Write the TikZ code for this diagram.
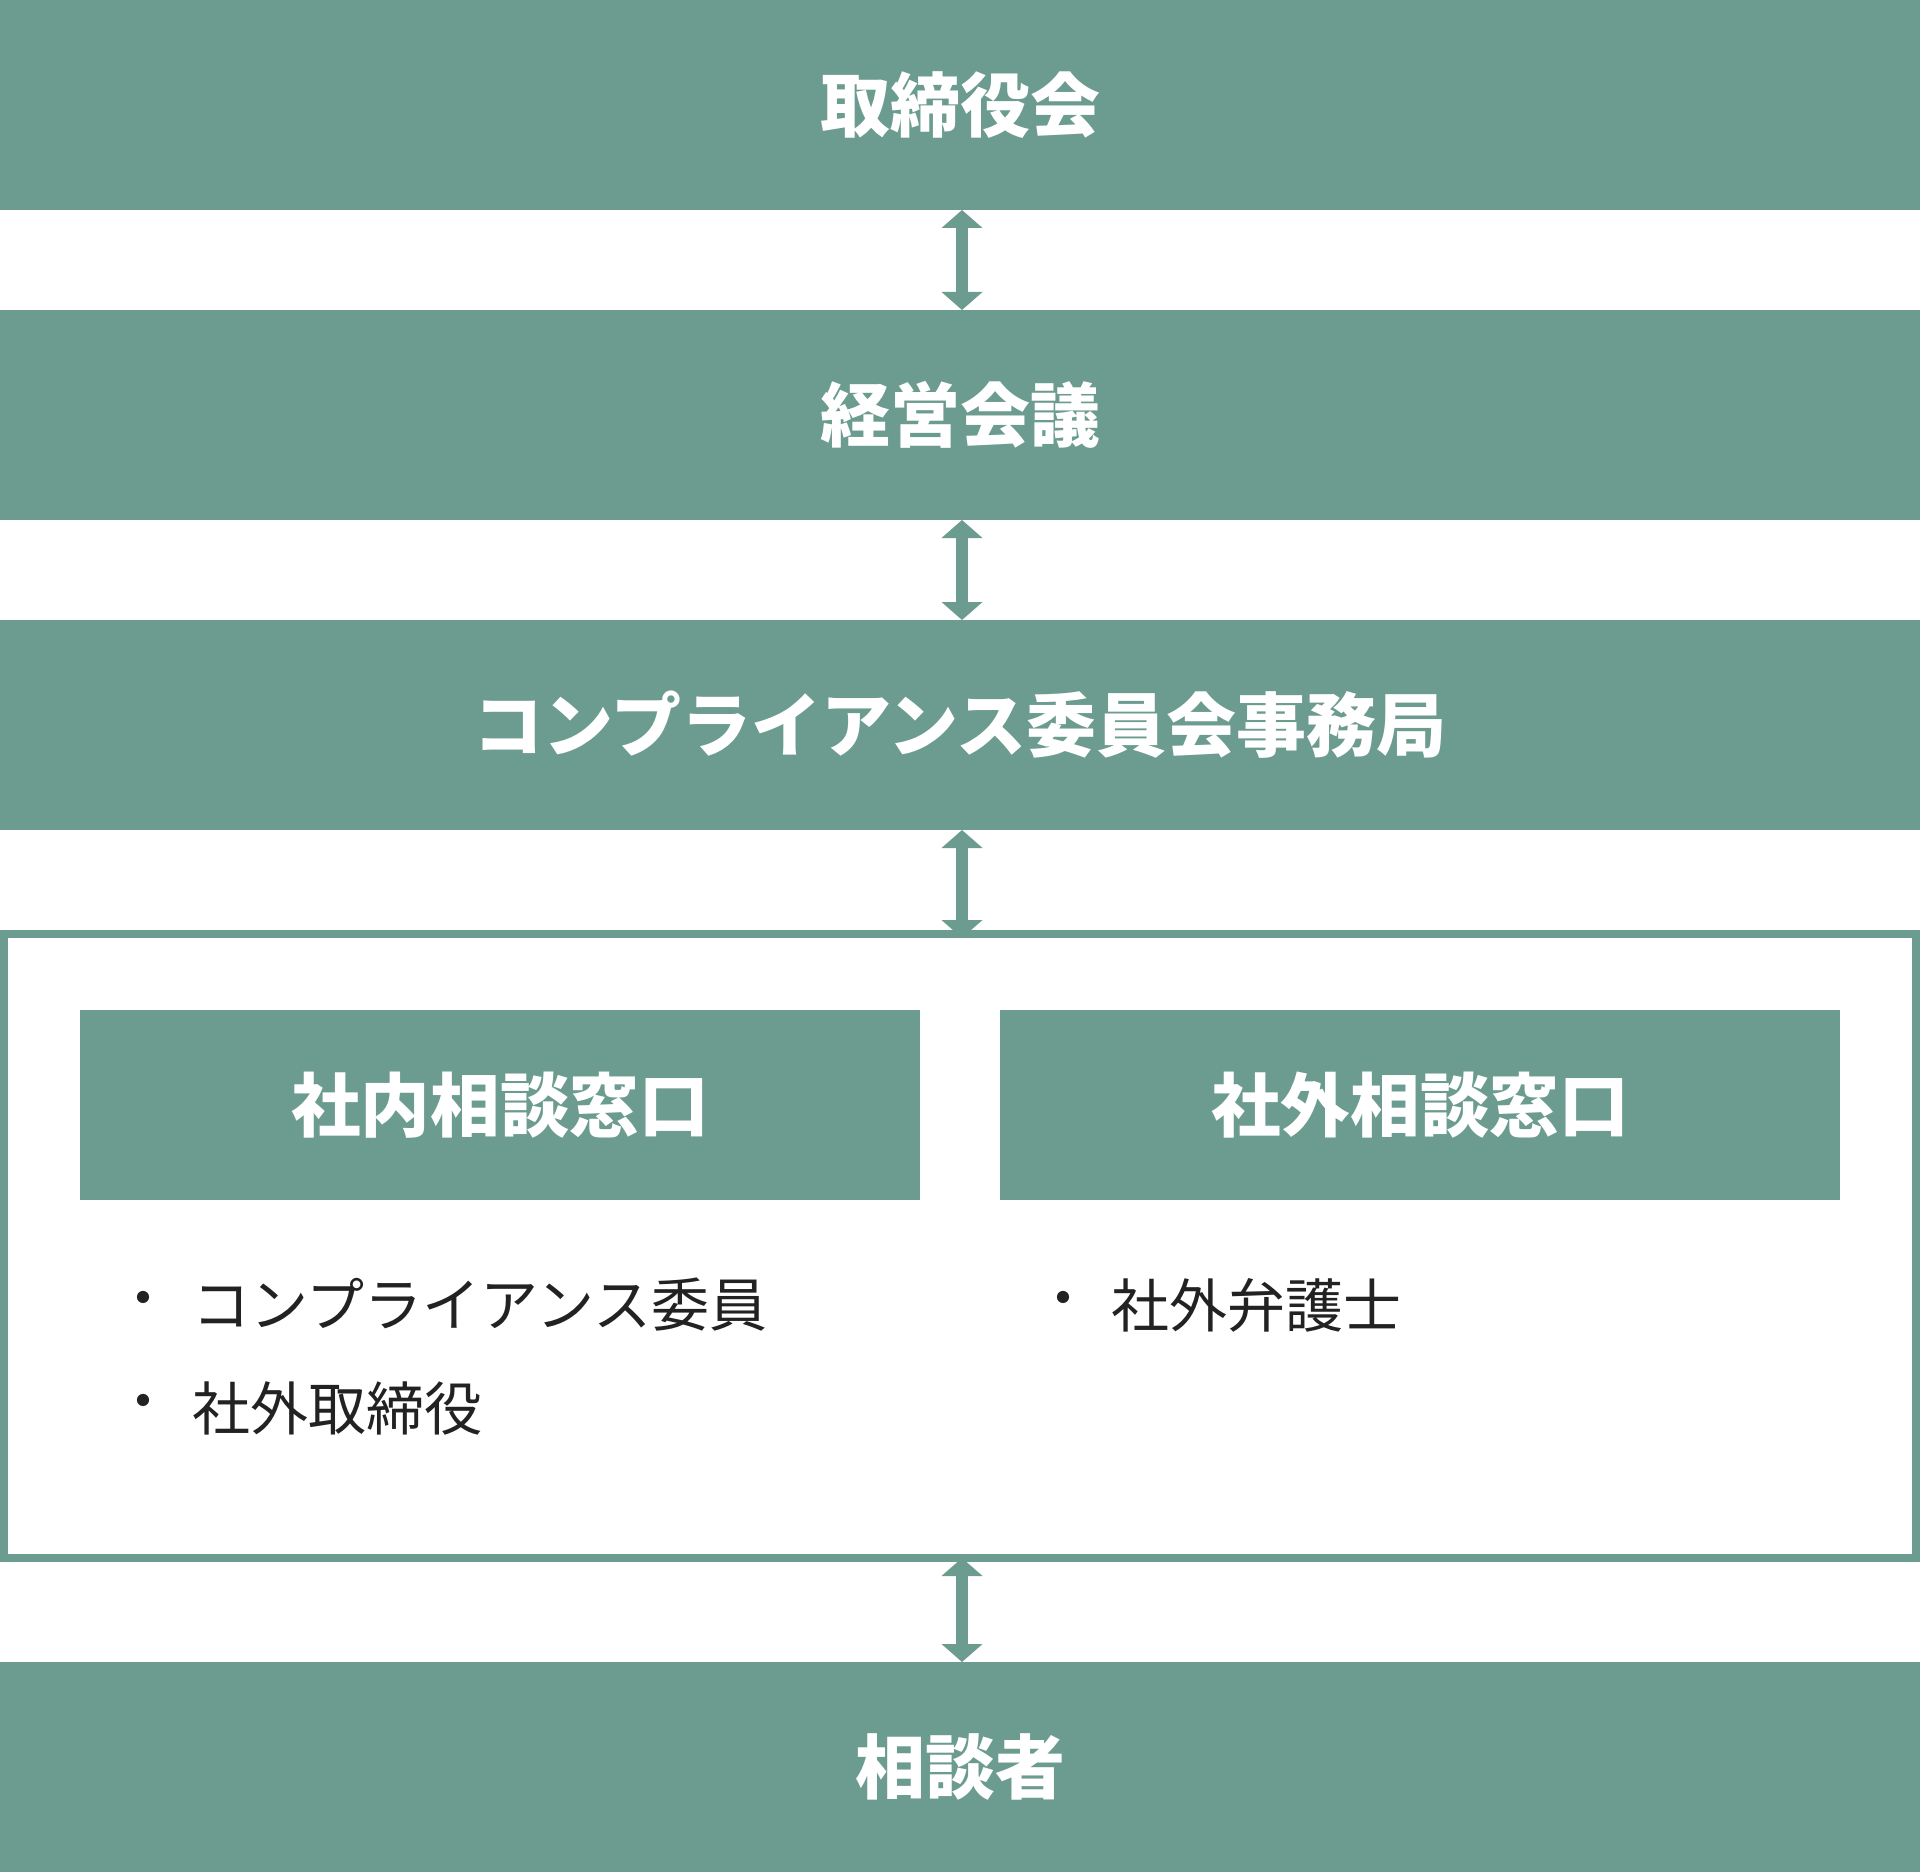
\documentclass[tikz,border=0pt]{standalone}
\usepackage{fontspec}
\newfontfamily\jp{Noto Sans CJK JP}
\usetikzlibrary{arrows.meta}
\definecolor{band}{HTML}{6C9B8F}
\definecolor{ink}{HTML}{222222}
\tikzset{
  bandbox/.style={fill=band, inner sep=0pt, outer sep=0pt, minimum width=960pt, minimum height=105pt,
    text=white, font=\jp\bfseries\fontsize{35}{40}\selectfont},
  innerbox/.style={fill=band, inner sep=0pt, outer sep=0pt, minimum width=420pt, minimum height=95pt,
    text=white, font=\jp\bfseries\fontsize{34.8}{40}\selectfont},
  framebox/.style={draw=band, line width=4pt, inner sep=0pt, minimum width=956pt, minimum height=312pt},
  bul/.style={text=ink, inner sep=0pt, font=\jp\fontsize{29}{34}\selectfont},
  item/.style={text=ink, inner sep=0pt, anchor=west, font=\jp\fontsize{29}{34}\selectfont},
  arr/.style={draw=band, line width=6pt, {Triangle[width=20pt,length=9pt]}-{Triangle[width=20pt,length=9pt]}}
}
\begin{document}
\begin{tikzpicture}[x=0.5pt,y=-0.5pt]
\useasboundingbox (0,0) rectangle (1920,1872);
\node[bandbox] (b1) at (960,105) {取締役会};
\node[bandbox] (b2) at (960,415) {経営会議};
\node[bandbox] (b3) at (960,725) {コンプライアンス委員会事務局};
\node[framebox] (fr) at (960,1246) {};
\node[bandbox] (b5) at (960,1767) {相談者};
\node[innerbox] (in1) at (500,1105) {社内相談窓口};
\node[innerbox] (in2) at (1420,1105) {社外相談窓口};
\node[bul] (d1) at (143,1305) {・};
\node[item] (t1) at (192,1305) {コンプライアンス委員};
\node[bul] (d2) at (143,1408) {・};
\node[item] (t2) at (192,1408) {社外取締役};
\node[bul] (d3) at (1063,1305) {・};
\node[item] (t3) at (1111,1305) {社外弁護士};
\draw[arr] ([xshift=1pt]b1.south) -- ([xshift=1pt]b2.north);
\draw[arr] ([xshift=1pt]b2.south) -- ([xshift=1pt]b3.north);
\draw[arr] ([xshift=1pt]b3.south) -- ([xshift=1pt,yshift=-4pt]fr.north);
\draw[arr] ([xshift=1pt,yshift=2pt]fr.south) -- ([xshift=1pt]b5.north);
\end{tikzpicture}
\end{document}
